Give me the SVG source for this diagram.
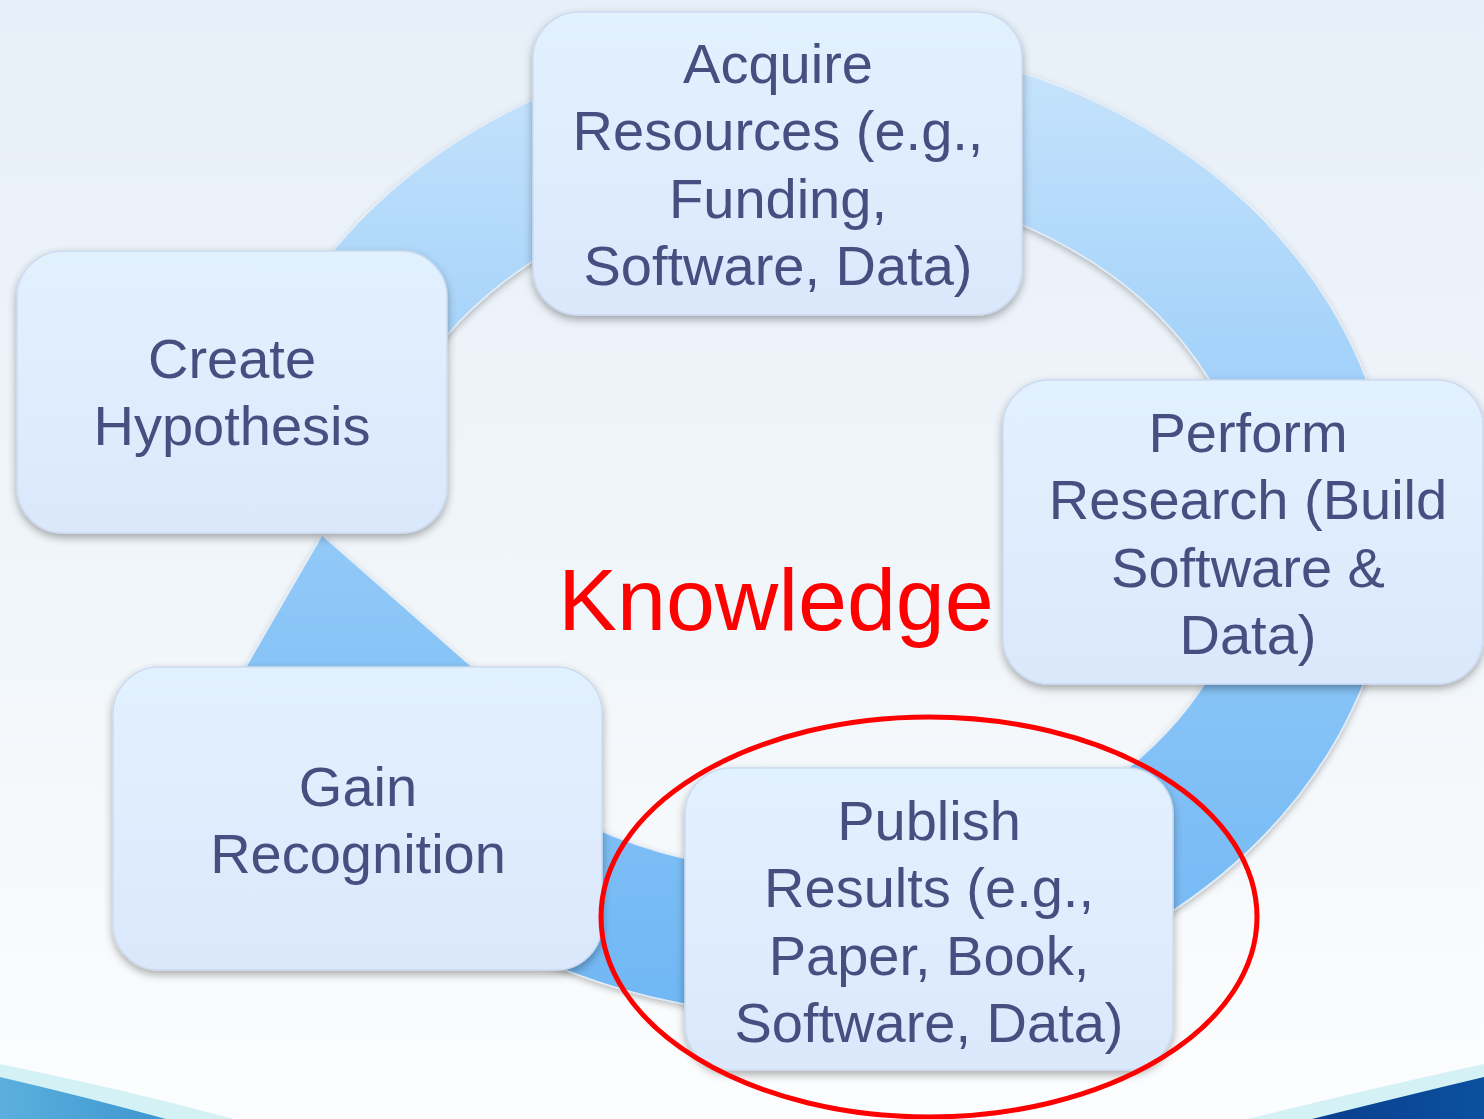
<svg xmlns="http://www.w3.org/2000/svg" width="1484" height="1119" viewBox="0 0 1484 1119">
  <defs>
    <linearGradient id="bg" x1="0" y1="0" x2="0" y2="1">
      <stop offset="0" stop-color="#e7eff8"/>
      <stop offset="0.55" stop-color="#f1f6fa"/>
      <stop offset="1" stop-color="#fcfdfe"/>
    </linearGradient>
    <linearGradient id="ringFill" gradientUnits="userSpaceOnUse" x1="0" y1="40" x2="0" y2="1010">
      <stop offset="0" stop-color="#c8e4fc"/>
      <stop offset="0.5" stop-color="#92c9f8"/>
      <stop offset="1" stop-color="#70b7f4"/>
    </linearGradient>
    <linearGradient id="nodeFill" x1="0" y1="0" x2="0" y2="1">
      <stop offset="0" stop-color="#e2f1fe"/>
      <stop offset="1" stop-color="#dbe8fc"/>
    </linearGradient>
    <linearGradient id="waveLeft" x1="0" y1="0" x2="1" y2="0">
      <stop offset="0" stop-color="#5bb0dd"/>
      <stop offset="1" stop-color="#3d96cf"/>
    </linearGradient>
    <linearGradient id="waveRight" x1="0" y1="0" x2="1" y2="0">
      <stop offset="0" stop-color="#0a3f8e"/>
      <stop offset="1" stop-color="#0b509f"/>
    </linearGradient>
    <filter id="nodeShadow" x="-10%" y="-10%" width="120%" height="125%">
      <feDropShadow dx="0" dy="4" stdDeviation="4" flood-color="#000" flood-opacity="0.32"/>
    </filter>
    <filter id="ringShadow" x="-10%" y="-10%" width="120%" height="120%">
      <feDropShadow dx="0" dy="3" stdDeviation="3" flood-color="#000" flood-opacity="0.25"/>
    </filter>
    <style>
      .node { fill: url(#nodeFill); stroke: #cbdaef; stroke-width: 1.5; filter: url(#nodeShadow); }
      .label { font-family: "Liberation Sans", Arial, sans-serif; font-size: 56px; fill: #454f80; text-anchor: middle; }
      .ring { fill: url(#ringFill); stroke: #e3edf8; stroke-width: 1.5; }
    </style>
  </defs>

  <!-- slide background -->
  <rect x="0" y="0" width="1484" height="1119" fill="url(#bg)"/>

  <!-- bottom wave decoration -->
  <path d="M0,1064 Q118,1088 234,1119 L0,1119 Z" fill="#d4f2f6"/>
  <path d="M0,1077 Q86,1097 166,1119 L0,1119 Z" fill="url(#waveLeft)"/>
  <path d="M1484,1064 Q1364,1090 1248,1119 L1484,1119 Z" fill="#d4f2f6"/>
  <path d="M1484,1077 Q1396,1098 1312,1119 L1484,1119 Z" fill="url(#waveRight)"/>

  <!-- circular arrow linking the steps -->
  <g id="connectors" filter="url(#ringShadow)">
    <path class="ring" d="M244.4,420 A582,488 0 1 1 263,690 L423.5,690 A440,345 0 1 0 394.1,420 Z"/>
    <polygon class="ring" points="322,535 226,701 511,701"/>
  </g>

  <g id="node-acquire">
    <rect class="node" x="533" y="12" width="489" height="303" rx="46" ry="46"/>
    <text class="label" x="778" y="83">Acquire</text>
    <text class="label" x="778" y="150">Resources (e.g.,</text>
    <text class="label" x="778" y="218">Funding,</text>
    <text class="label" x="778" y="285">Software, Data)</text>
  </g>

  <g id="node-create">
    <rect class="node" x="17" y="251" width="430" height="282" rx="46" ry="46"/>
    <text class="label" x="232" y="378">Create</text>
    <text class="label" x="232" y="445">Hypothesis</text>
  </g>

  <g id="node-perform">
    <rect class="node" x="1003" y="380" width="480" height="304" rx="46" ry="46"/>
    <text class="label" x="1248" y="452">Perform</text>
    <text class="label" x="1248" y="519">Research (Build</text>
    <text class="label" x="1248" y="587">Software &amp;</text>
    <text class="label" x="1248" y="654">Data)</text>
  </g>

  <g id="node-gain">
    <rect class="node" x="113" y="667" width="489" height="303" rx="46" ry="46"/>
    <text class="label" x="358" y="806">Gain</text>
    <text class="label" x="358" y="873">Recognition</text>
  </g>

  <g id="node-publish">
    <rect class="node" x="685" y="768" width="488" height="302" rx="46" ry="46"/>
    <text class="label" x="929" y="840">Publish</text>
    <text class="label" x="929" y="907">Results (e.g.,</text>
    <text class="label" x="929" y="975">Paper, Book,</text>
    <text class="label" x="929" y="1042">Software, Data)</text>
  </g>

  <!-- centre caption -->
  <text x="776" y="630" font-family="'Liberation Sans', Arial, sans-serif" font-size="88" fill="#ff0000" text-anchor="middle">Knowledge</text>

  <!-- highlight around the publishing step -->
  <ellipse cx="929" cy="917" rx="328" ry="200" fill="none" stroke="#ff0000" stroke-width="5"/>
</svg>
